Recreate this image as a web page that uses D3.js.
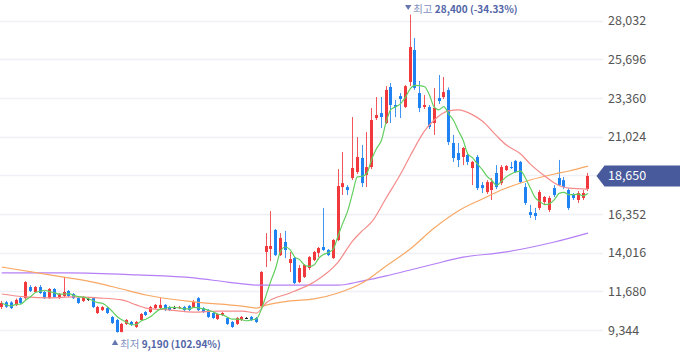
<!DOCTYPE html>
<html><head><meta charset="utf-8">
<script src="https://cdn.jsdelivr.net/npm/d3@7"></script>
<style>html,body{margin:0;padding:0;background:#fff;}svg{display:block;}</style>
</head><body><svg id="c" width="680" height="358"></svg>
<script>
// ---- data ----
const open = [
10730,11020,11010,10850,11280,11270,11940,11640,11940,11640,
11270,11820,11270,11400,11700,11520,11270,11100,11220,11270,
10370,10550,10670,10130,9950,9220,9710,9830,9530,9950,
10430,10430,10670,10670,10860,10730,10700,10670,10730,10800,
10730,11270,10670,10550,10370,10010,10250,10070,9830,9710,
9950,10070,10130,10070,10790,14060,14240,15390,13870,14660,
13390,13690,12240,12550,13090,13570,14000,14360,14180,13690,
14780,17980,17980,18530,18890,19740,18710,19190,22150,22450,
21850,24030,22940,23480,22820,24330,26260,23660,22820,22820,
21850,23360,23420,23840,20640,20040,19800,19920,19130,19800,
18100,17680,17800,18830,18220,19010,19190,19560,19500,17980,
16470,16410,16720,17080,16600,17920,18530,18400,17800,17500,
17200,17320,17860];
const high = [
11100,11100,11080,11250,11340,12300,12060,12000,12060,11700,
11880,11880,11580,12550,11760,11580,11340,11400,11340,11340,
10800,10790,10730,10190,10010,9770,10010,9890,9890,10370,
10490,10800,10920,11270,10920,10800,10800,10800,10800,10860,
11160,11340,10730,10610,10430,10370,10430,10130,9890,10130,
10190,10130,10190,10130,12900,15200,16530,15450,15200,15330,
14060,13750,13270,13330,13810,14120,14360,16720,14240,14840,
19070,20100,18100,22210,21000,20520,21310,22760,23420,23420,
24080,24270,23240,23660,24140,28400,26990,24390,23540,22940,
23960,24750,24630,24000,21130,20640,20400,20040,19560,19920,
18280,18400,18530,19310,19310,19310,19500,19620,19560,18220,
16900,16720,17800,17440,17440,18100,19620,18590,17920,17620,
17740,17800,18830];
const low = [
10610,10680,10610,10790,10920,11160,11640,11580,11520,11220,
11220,11280,11220,11340,11340,11220,10920,11040,11100,10670,
10310,10490,10310,9710,9190,9210,9650,9590,9470,9890,
10190,10370,10610,10610,10490,10490,10610,10610,10490,10490,
10670,10490,10370,10070,10010,9950,10190,9650,9470,9650,
9890,10010,9890,9770,10730,13150,13510,13810,13810,13690,
12850,12120,12180,12490,12970,13510,13750,14120,13810,13630,
14720,17500,17500,18400,18770,17980,17980,19070,22030,21550,
21790,21850,22210,22150,22760,24080,23850,22510,22700,21490,
21130,23000,23300,20520,19500,19190,19310,19310,18100,17800,
17620,17560,17200,17860,18100,18950,19070,18830,18220,16900,
16110,15990,16600,16960,16470,17380,18040,17860,16600,17200,
17020,17200,17740];
const close = [
10980,10750,10670,11160,10980,12240,11700,11940,11580,11270,
11820,11340,11520,11640,11400,11270,10980,11340,11220,10730,
10730,10730,10370,9770,9220,9710,9950,9650,9830,10310,
10250,10730,10860,10860,10550,10550,10700,10730,10550,10550,
11040,10550,10430,10130,10070,10310,10370,9710,9530,10070,
10130,10070,9950,9830,12850,14420,14420,13870,14900,14180,
13630,12180,13090,13270,13750,14060,14300,14180,13870,14780,
18040,18220,17800,19130,19800,18220,19190,22030,22330,22210,
23850,22940,22820,23300,24080,26440,23970,22760,22940,21610,
22760,23180,23720,20700,19740,19620,20340,19500,19500,17920,
17920,18280,18280,17980,19190,19250,19130,18890,18280,17020,
16290,16230,17680,17380,17320,17500,18100,17980,16720,17320,
17620,17620,18650];

// moving averages (candle index, value)
const ma20Idx = [0,5,10,15,20,25,28,30,35,40,45,50,53,55,60,65,70,73,75,77,80,83,85,88,90,93,95,98,100,103,105,108,110,113,115,118,122];
const ma20 = [11520,11340,11280,11340,11280,11160,10860,10670,10550,10430,10490,10490,10370,10980,11580,12240,13450,14720,15330,15870,17320,18770,19860,21370,22030,22580,22640,22340,21970,21070,20520,19980,19370,18650,18230,17920,17860];
const ma60Idx = [0,10,20,25,30,40,50,53,55,60,65,70,75,80,85,90,95,100,105,110,115,118,122];
const ma60 = [13150,12670,12180,11820,11460,11040,10790,10670,10850,11100,11220,11580,12180,13210,14240,15510,16540,17260,17920,18410,18770,18950,19250];
const ma120Idx = [0,14,28,40,47,53,70,75,80,85,90,95,105,115,122];
const ma120 = [12790,12790,12670,12490,12240,12060,12060,12300,12610,12970,13330,13690,14060,14660,15200];

const yTicks = [9344,11680,14016,16352,18688,21024,23360,25696,28032];
const lastPrice = 18650;
const highInfo = {label:"최고", text:"28,400 (-34.33%)"};
const lowInfo = {label:"최저", text:"9,190 (102.94%)"};

// ---- chart ----
const svg = d3.select("#c");
const idx = d3.range(close.length);
const x = d3.scaleBand().domain(idx).range([-0.7, 590.4]).padding(0);
const cx = i => x(i) + x.bandwidth()/2;
const y = d3.scaleLinear().domain([9344, 28032]).range([330, 20.7]);

const fmt = d3.format(",");
const FONT = "'Noto Sans CJK KR','Noto Sans',sans-serif";

// grid
svg.append("g").selectAll("line").data(yTicks).join("line")
  .attr("x1",0).attr("x2",603)
  .attr("y1",d=>Math.round(y(d))+0.5).attr("y2",d=>Math.round(y(d))+0.5)
  .attr("stroke","#eff0f6").attr("stroke-width",1.5);

// axis labels
const yAxis = d3.axisRight(y).tickValues(yTicks).tickSize(0).tickPadding(0).tickFormat(fmt);
const ag = svg.append("g").attr("transform","translate(608,0)").call(yAxis);
ag.select(".domain").remove();
ag.selectAll("text").attr("fill","#555").attr("font-size","12.5px").attr("font-family",FONT)
  .attr("text-anchor","start");

// candles
const UP="#f0383d", DOWN="#1e82f2", DOJI="#222";
const col = i => close[i]>open[i]?UP:(close[i]<open[i]?DOWN:DOJI);
const cg = svg.append("g");
idx.forEach(i=>{
  const bx = Math.round(cx(i)-1.5);
  const c = col(i);
  cg.append("rect").attr("x",bx+1).attr("width",1)
    .attr("y",y(high[i])).attr("height",Math.max(1,y(low[i])-y(high[i])))
    .attr("fill",c).attr("opacity",0.85);
  const top = y(Math.max(open[i],close[i])), bot = y(Math.min(open[i],close[i]));
  cg.append("rect").attr("x",bx).attr("width",3)
    .attr("y",top).attr("height",Math.max(1,bot-top)).attr("fill",c);
});

// moving average lines
const ma5 = close.map((c,i)=>d3.mean(close.slice(Math.max(0,i-4),i+1)));
const line = d3.line().x(d=>cx(d[0])).y(d=>y(d[1])).curve(d3.curveMonotoneX);
const lines = [
  {pts: ma120Idx.map((k,j)=>[k,ma120[j]]), color:"#b57ff6"},
  {pts: ma60Idx.map((k,j)=>[k,ma60[j]]), color:"#f8a865"},
  {pts: ma20Idx.map((k,j)=>[k,ma20[j]]), color:"#f58b8b"},
  {pts: idx.map(i=>[i,ma5[i]]), color:"#62cf5f"}
];
svg.append("g").selectAll("path").data(lines).join("path")
  .attr("d",d=>line(d.pts)).attr("fill","none")
  .attr("stroke",d=>d.color).attr("stroke-width",1.2);

// high / low annotation
const hi = d3.maxIndex(high), lo = d3.minIndex(low);
function note(i, info, ty, down){
  const xx = cx(i) - 2;
  const g = svg.append("g");
  const t = down ? `M${xx-3.2},${ty-8}L${xx+3.2},${ty-8}L${xx},${ty-3}Z`
                 : `M${xx-3.2},${ty-2.5}L${xx+3.2},${ty-2.5}L${xx},${ty-8}Z`;
  g.append("path").attr("d",t).attr("fill","#6677b0");
  const tx = g.append("text").attr("x",xx+5).attr("y",ty).attr("font-family",FONT).attr("font-size","10px");
  tx.append("tspan").attr("fill","#8391c0").attr("font-size","10.5px").text(info.label+" ");
  tx.append("tspan").attr("fill","#5265a6").attr("font-weight","bold").text(info.text);
}
note(hi, highInfo, 13, true);
note(lo, lowInfo, 347.5, false);

// last price tag
const py = y(lastPrice);
svg.append("path")
  .attr("d",`M596.5,${py}L604.5,${py-10.5}L680,${py-10.5}L680,${py+10.5}L604.5,${py+10.5}Z`)
  .attr("fill","#485a9b");
svg.append("text").attr("x",608).attr("y",py).attr("dy","0.36em")
  .attr("fill","#fff").attr("font-size","12.5px").attr("font-family",FONT).text(fmt(lastPrice));
</script></body></html>
